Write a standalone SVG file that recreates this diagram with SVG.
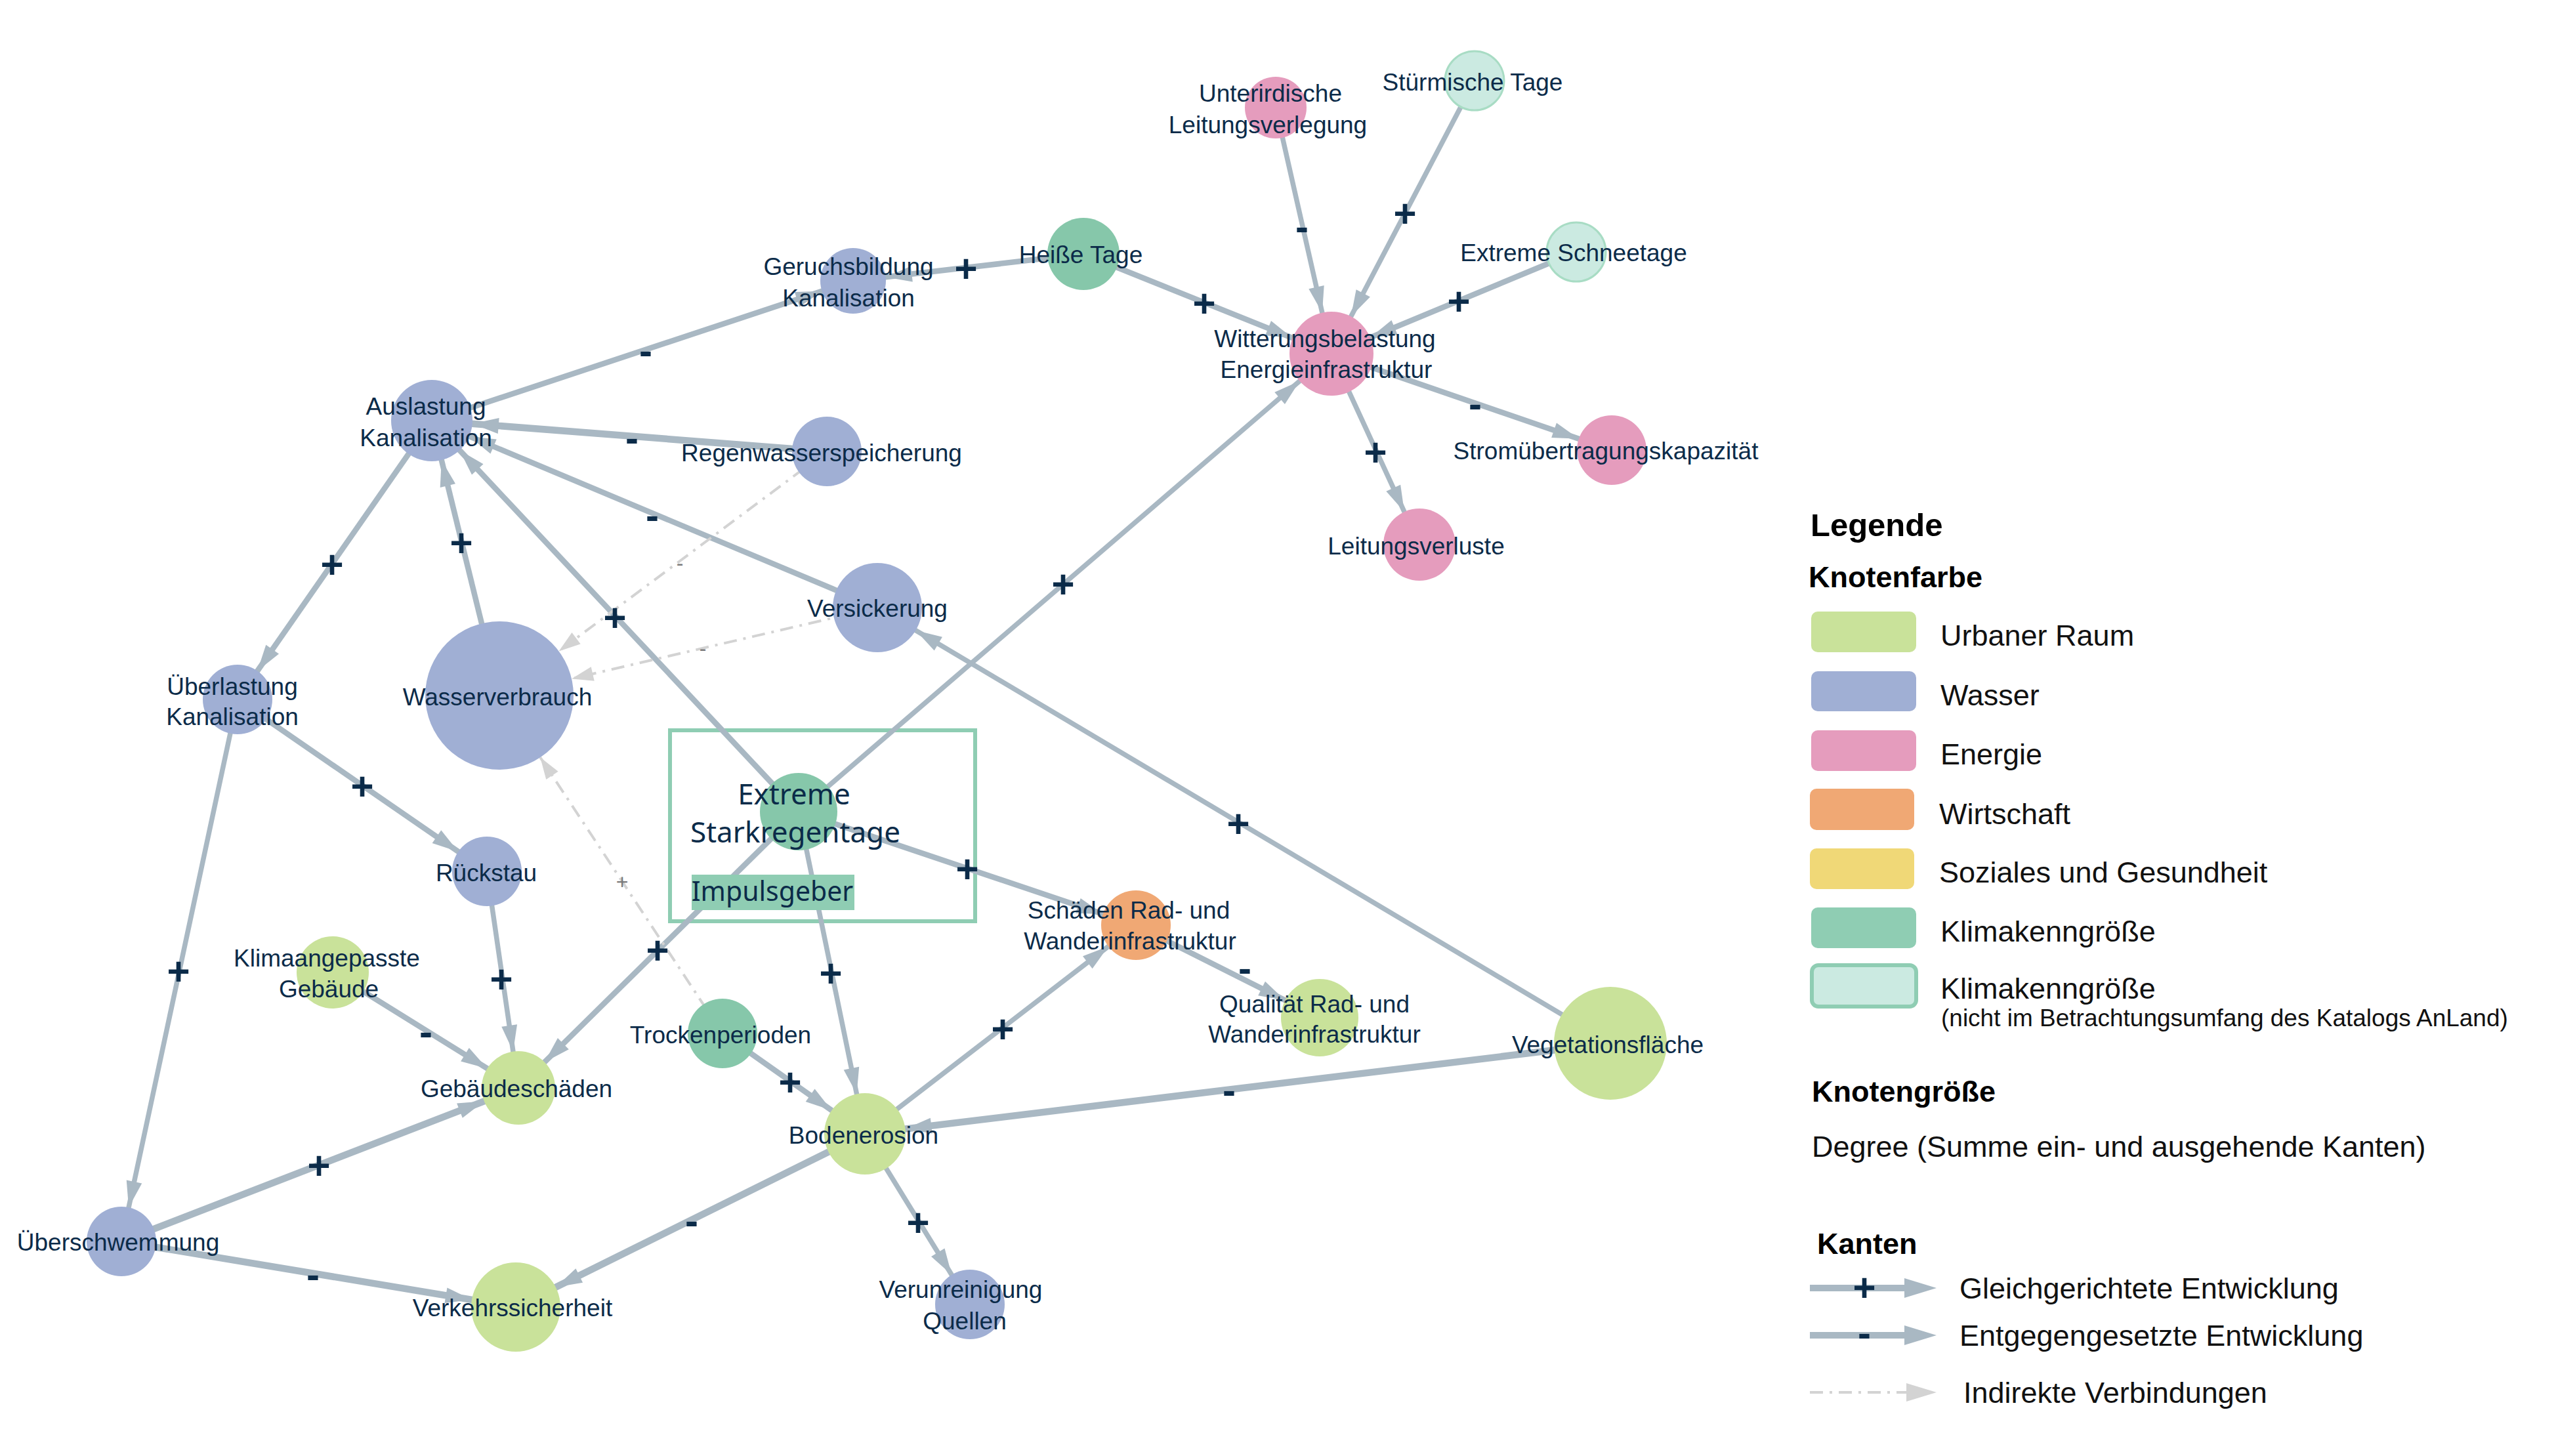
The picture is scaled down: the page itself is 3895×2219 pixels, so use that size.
<svg xmlns="http://www.w3.org/2000/svg" width="3895" height="2219" viewBox="0 0 3895 2219">
<style>
.e{stroke:#a9b8c3;fill:none;stroke-width:8.5}
.t{stroke-width:7.5}
.th{stroke-width:10.5}
.d{stroke:#d3d3d3;fill:none;stroke-width:4;stroke-dasharray:20 10 4 10}
.s{font-family:"Liberation Sans",Arial,sans-serif;font-weight:bold;font-size:60px;fill:#0b2b49;text-anchor:middle}
.sd{font-family:"Liberation Sans",Arial,sans-serif;font-size:32px;fill:#7a7a7a;text-anchor:middle}
.nl{font-family:"Liberation Sans",Arial,sans-serif;font-size:37px;fill:#0b2b49;text-anchor:middle}
.big{font-family:"Noto Sans","Open Sans",sans-serif;font-size:44px;fill:#0b2b49;text-anchor:middle}
.imp{font-family:"Noto Sans","Open Sans",sans-serif;font-size:41px;fill:#0b2b49;text-anchor:middle}
.u{fill:#c9e29a}.w{fill:#a0afd4}.en{fill:#e59cbd}.wi{fill:#f0a874}.so{fill:#f0d877}.k{fill:#86c7aa}.kl{fill:#cbeae1;stroke:#a8dcc4;stroke-width:3}
.lg{font-family:"Liberation Sans",Arial,sans-serif;font-size:45px;fill:#111}
.ls{font-family:"Liberation Sans",Arial,sans-serif;font-size:37px;fill:#111}
.lb{font-family:"Liberation Sans",Arial,sans-serif;font-weight:bold;font-size:45px;fill:#000}
.ah{fill:#a9b8c3}.ad{fill:#d3d3d3}
</style>
<defs>
<marker id="a50" markerUnits="userSpaceOnUse" orient="auto" markerWidth="1" markerHeight="1" refX="90" refY="0" overflow="visible"><path class="ah" d="M0,-12L40,0L0,12z"/></marker>
<marker id="a53" markerUnits="userSpaceOnUse" orient="auto" markerWidth="1" markerHeight="1" refX="93" refY="0" overflow="visible"><path class="ah" d="M0,-12L40,0L0,12z"/></marker>
<marker id="a55" markerUnits="userSpaceOnUse" orient="auto" markerWidth="1" markerHeight="1" refX="95" refY="0" overflow="visible"><path class="ah" d="M0,-12L40,0L0,12z"/></marker>
<marker id="a56" markerUnits="userSpaceOnUse" orient="auto" markerWidth="1" markerHeight="1" refX="96" refY="0" overflow="visible"><path class="ah" d="M0,-12L40,0L0,12z"/></marker>
<marker id="a59" markerUnits="userSpaceOnUse" orient="auto" markerWidth="1" markerHeight="1" refX="99" refY="0" overflow="visible"><path class="ah" d="M0,-12L40,0L0,12z"/></marker>
<marker id="a62" markerUnits="userSpaceOnUse" orient="auto" markerWidth="1" markerHeight="1" refX="102" refY="0" overflow="visible"><path class="ah" d="M0,-12L40,0L0,12z"/></marker>
<marker id="a64" markerUnits="userSpaceOnUse" orient="auto" markerWidth="1" markerHeight="1" refX="104" refY="0" overflow="visible"><path class="ah" d="M0,-12L40,0L0,12z"/></marker>
<marker id="a68" markerUnits="userSpaceOnUse" orient="auto" markerWidth="1" markerHeight="1" refX="108" refY="0" overflow="visible"><path class="ah" d="M0,-12L40,0L0,12z"/></marker>
<marker id="d113" markerUnits="userSpaceOnUse" orient="auto" markerWidth="1" markerHeight="1" refX="146" refY="0" overflow="visible"><path class="ad" d="M0,-11L33,0L0,11z"/></marker>
</defs>
<rect width="3895" height="2219" fill="#ffffff"/>

<g id="impuls-box"><rect x="1021" y="1113" width="465" height="291" fill="none" stroke="#8fcdb3" stroke-width="6"/></g>

<g id="connectors">
<line class="e" x1="658" y1="641" x2="1300" y2="428" marker-end="url(#a50)"/>
<line class="e" x1="1651" y1="387" x2="1300" y2="428" marker-end="url(#a50)"/>
<line class="e" x1="1651" y1="387" x2="2029" y2="539" marker-end="url(#a64)"/>
<line class="e t" x1="1944" y1="164" x2="2029" y2="539" marker-end="url(#a64)"/>
<line class="e t" x1="2247" y1="123" x2="2029" y2="539" marker-end="url(#a64)"/>
<line class="e" x1="2402" y1="384" x2="2029" y2="539" marker-end="url(#a64)"/>
<line class="e" x1="2029" y1="539" x2="2456" y2="686" marker-end="url(#a53)"/>
<line class="e t" x1="2029" y1="539" x2="2163" y2="830" marker-end="url(#a55)"/>
<line class="e t" x1="1217" y1="1237" x2="2029" y2="539" marker-end="url(#a64)"/>
<line class="e th" x1="1260" y1="688" x2="658" y2="641" marker-end="url(#a62)"/>
<line class="e" x1="1337" y1="926" x2="658" y2="641" marker-end="url(#a62)"/>
<line class="e" x1="761" y1="1060" x2="658" y2="641" marker-end="url(#a62)"/>
<line class="e" x1="1217" y1="1237" x2="658" y2="641" marker-end="url(#a62)"/>
<line class="e" x1="658" y1="641" x2="362" y2="1066" marker-end="url(#a53)"/>
<line class="e" x1="362" y1="1066" x2="742" y2="1328" marker-end="url(#a53)"/>
<line class="e t" x1="362" y1="1066" x2="185" y2="1892" marker-end="url(#a53)"/>
<line class="e t" x1="742" y1="1328" x2="790" y2="1658" marker-end="url(#a56)"/>
<line class="e" x1="507" y1="1482" x2="790" y2="1658" marker-end="url(#a56)"/>
<line class="e" x1="1217" y1="1237" x2="790" y2="1658" marker-end="url(#a56)"/>
<line class="e th" x1="185" y1="1892" x2="790" y2="1658" marker-end="url(#a56)"/>
<line class="e th" x1="185" y1="1892" x2="786" y2="1992" marker-end="url(#a68)"/>
<line class="e th" x1="1318" y1="1728" x2="786" y2="1992" marker-end="url(#a68)"/>
<line class="e" x1="1101" y1="1575" x2="1318" y2="1728" marker-end="url(#a62)"/>
<line class="e t" x1="1217" y1="1237" x2="1318" y2="1728" marker-end="url(#a62)"/>
<line class="e" x1="1217" y1="1237" x2="1731" y2="1410" marker-end="url(#a53)"/>
<line class="e t" x1="1318" y1="1728" x2="1731" y2="1410" marker-end="url(#a53)"/>
<line class="e" x1="1731" y1="1410" x2="2011" y2="1551" marker-end="url(#a59)"/>
<line class="e t" x1="2454" y1="1590" x2="1337" y2="926" marker-end="url(#a68)"/>
<line class="e th" x1="2454" y1="1590" x2="1318" y2="1728" marker-end="url(#a62)"/>
<line class="e t" x1="1318" y1="1728" x2="1478" y2="1988" marker-end="url(#a53)"/>
<line class="d" x1="1260" y1="688" x2="761" y2="1060" marker-end="url(#d113)"/>
<line class="d" x1="1337" y1="926" x2="761" y2="1060" marker-end="url(#d113)"/>
<line class="d" x1="1101" y1="1575" x2="761" y2="1060" marker-end="url(#d113)"/>
<text class="s" x="984" y="555">-</text>
<text class="s" x="1472" y="430">+</text>
<text class="s" x="1835" y="483">+</text>
<text class="s" x="1984" y="366">-</text>
<text class="s" x="2141" y="346">+</text>
<text class="s" x="2223" y="480">+</text>
<text class="s" x="2248" y="636">-</text>
<text class="s" x="2096" y="710">+</text>
<text class="s" x="1620" y="911">+</text>
<text class="s" x="963" y="688">-</text>
<text class="s" x="994" y="806">-</text>
<text class="s" x="703" y="848">+</text>
<text class="s" x="937" y="962">+</text>
<text class="s" x="506" y="881">+</text>
<text class="s" x="552" y="1219">+</text>
<text class="s" x="272" y="1501">+</text>
<text class="s" x="764" y="1513">+</text>
<text class="s" x="649" y="1593">-</text>
<text class="s" x="1002" y="1469">+</text>
<text class="s" x="486" y="1797">+</text>
<text class="s" x="477" y="1963">-</text>
<text class="s" x="1054" y="1881">-</text>
<text class="s" x="1204" y="1670">+</text>
<text class="s" x="1266" y="1504">+</text>
<text class="s" x="1474" y="1345">+</text>
<text class="s" x="1528" y="1589">+</text>
<text class="s" x="1897" y="1496">-</text>
<text class="s" x="1887" y="1276">+</text>
<text class="s" x="1873" y="1682">-</text>
<text class="s" x="1399" y="1884">+</text>
<text class="sd" x="1036" y="869">-</text>
<text class="sd" x="1071" y="999">-</text>
<text class="sd" x="948" y="1355">+</text>
</g>

<g id="n-unterirdische"><circle class="en" cx="1944" cy="164" r="47"/><text class="nl" x="1936" y="155">Unterirdische</text><text class="nl" x="1932" y="203">Leitungsverlegung</text></g>
<g id="n-stuermische"><circle class="kl" cx="2247" cy="123" r="45"/><text class="nl" x="2244" y="138">Stürmische Tage</text></g>
<g id="n-heisse"><circle class="k" cx="1651" cy="387" r="55"/><text class="nl" x="1647" y="401">Heiße Tage</text></g>
<g id="n-geruch"><circle class="w" cx="1300" cy="428" r="50"/><text class="nl" x="1293" y="419">Geruchsbildung</text><text class="nl" x="1293" y="467">Kanalisation</text></g>
<g id="n-schnee"><circle class="kl" cx="2402" cy="384" r="45"/><text class="nl" x="2398" y="398">Extreme Schneetage</text></g>
<g id="n-witterung"><circle class="en" cx="2029" cy="539" r="64"/><text class="nl" x="2019" y="529">Witterungsbelastung</text><text class="nl" x="2021" y="576">Energieinfrastruktur</text></g>
<g id="n-auslastung"><circle class="w" cx="658" cy="641" r="62"/><text class="nl" x="649" y="632">Auslastung</text><text class="nl" x="649" y="680">Kanalisation</text></g>
<g id="n-regenwasser"><circle class="w" cx="1260" cy="688" r="53"/><text class="nl" x="1252" y="703">Regenwasserspeicherung</text></g>
<g id="n-strom"><circle class="en" cx="2456" cy="686" r="53"/><text class="nl" x="2447" y="700">Stromübertragungskapazität</text></g>
<g id="n-leitungsverluste"><circle class="en" cx="2163" cy="830" r="55"/><text class="nl" x="2158" y="845">Leitungsverluste</text></g>
<g id="n-versickerung"><circle class="w" cx="1337" cy="926" r="68"/><text class="nl" x="1337" y="940">Versickerung</text></g>
<g id="n-wasserverbrauch"><circle class="w" cx="761" cy="1060" r="113"/><text class="nl" x="758" y="1075">Wasserverbrauch</text></g>
<g id="n-ueberlastung"><circle class="w" cx="362" cy="1066" r="53"/><text class="nl" x="354" y="1059">Überlastung</text><text class="nl" x="354" y="1105">Kanalisation</text></g>
<g id="n-rueckstau"><circle class="w" cx="742" cy="1328" r="53"/><text class="nl" x="741" y="1343">Rückstau</text></g>
<g id="n-klimaangepasst"><circle class="u" cx="507" cy="1482" r="55"/><text class="nl" x="498" y="1473">Klimaangepasste</text><text class="nl" x="501" y="1520">Gebäude</text></g>
<g id="n-schaeden-rad"><circle class="wi" cx="1731" cy="1410" r="53"/><text class="nl" x="1720" y="1400">Schäden Rad- und</text><text class="nl" x="1722" y="1447">Wanderinfrastruktur</text></g>
<g id="n-trocken"><circle class="k" cx="1101" cy="1575" r="53"/><text class="nl" x="1098" y="1590">Trockenperioden</text></g>
<g id="n-qualitaet"><circle class="u" cx="2011" cy="1551" r="59"/><text class="nl" x="2003" y="1543">Qualität Rad- und</text><text class="nl" x="2003" y="1589">Wanderinfrastruktur</text></g>
<g id="n-vegetation"><circle class="u" cx="2454" cy="1590" r="86"/><text class="nl" x="2450" y="1605">Vegetationsfläche</text></g>
<g id="n-gebaeudeschaeden"><circle class="u" cx="790" cy="1658" r="56"/><text class="nl" x="787" y="1672">Gebäudeschäden</text></g>
<g id="n-bodenerosion"><circle class="u" cx="1318" cy="1728" r="62"/><text class="nl" x="1316" y="1743">Bodenerosion</text></g>
<g id="n-ueberschwemmung"><circle class="w" cx="185" cy="1892" r="53"/><text class="nl" x="180" y="1906">Überschwemmung</text></g>
<g id="n-verkehr"><circle class="u" cx="786" cy="1992" r="68"/><text class="nl" x="781" y="2006">Verkehrssicherheit</text></g>
<g id="n-verunreinigung"><circle class="w" cx="1478" cy="1988" r="53"/><text class="nl" x="1464" y="1978">Verunreinigung</text><text class="nl" x="1470" y="2026">Quellen</text></g>
<g id="n-starkregen"><circle class="k" cx="1217" cy="1237" r="59"/><text class="big" x="1210" y="1226">Extreme</text><text class="big" x="1212" y="1284">Starkregentage</text><rect x="1054" y="1333" width="248" height="54" fill="#8fcdb3"/><text class="imp" x="1177" y="1373">Impulsgeber</text></g>

<g id="legend">
<text class="lb" x="2759" y="817" style="font-size:49px">Legende</text>
<text class="lb" x="2756" y="895">Knotenfarbe</text>
<rect x="2760" y="932" width="160" height="62" rx="10" class="u"/><text class="lg" x="2957" y="984">Urbaner Raum</text>
<rect x="2760" y="1023" width="160" height="61" rx="10" class="w"/><text class="lg" x="2957" y="1075">Wasser</text>
<rect x="2760" y="1113" width="160" height="62" rx="10" class="en"/><text class="lg" x="2957" y="1165">Energie</text>
<rect x="2758" y="1202" width="159" height="63" rx="10" class="wi"/><text class="lg" x="2955" y="1256">Wirtschaft</text>
<rect x="2758" y="1293" width="159" height="62" rx="10" class="so"/><text class="lg" x="2955" y="1345">Soziales und Gesundheit</text>
<rect x="2760" y="1383" width="160" height="62" rx="10" fill="#8fcdb3"/><text class="lg" x="2957" y="1435">Klimakenngröße</text>
<rect x="2761" y="1471" width="159" height="63" rx="10" fill="#cbeae1" stroke="#8fcdb3" stroke-width="6"/><text class="lg" x="2957" y="1522">Klimakenngröße</text>
<text class="ls" x="2958" y="1564">(nicht im Betrachtungsumfang des Katalogs AnLand)</text>
<text class="lb" x="2761" y="1679">Knotengröße</text>
<text class="lg" x="2761" y="1763">Degree (Summe ein- und ausgehende Kanten)</text>
<text class="lb" x="2769" y="1911">Kanten</text>
<line x1="2758" y1="1963" x2="2905" y2="1963" stroke="#a9b8c3" stroke-width="10"/><path class="ah" d="M2902,1948L2951,1963L2902,1978z"/><text class="s" x="2841" y="1983">+</text><text class="lg" x="2986" y="1979">Gleichgerichtete Entwicklung</text>
<line x1="2758" y1="2035" x2="2905" y2="2035" stroke="#a9b8c3" stroke-width="10"/><path class="ah" d="M2902,2020L2951,2035L2902,2050z"/><text class="s" x="2841" y="2052">-</text><text class="lg" x="2986" y="2051">Entgegengesetzte Entwicklung</text>
<line class="d" x1="2758" y1="2122" x2="2905" y2="2122"/><path class="ad" d="M2905,2108L2951,2122L2905,2136z"/><text class="lg" x="2992" y="2138">Indirekte Verbindungen</text>
</g>
</svg>
